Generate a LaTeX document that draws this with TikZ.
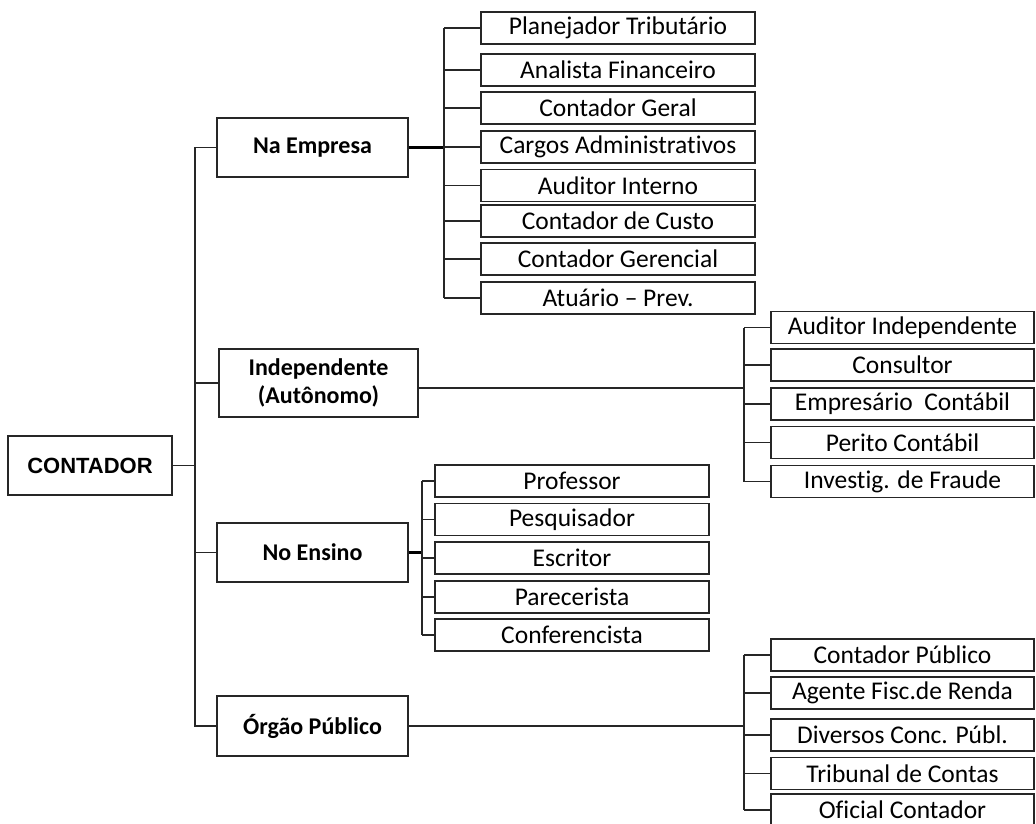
\documentclass[tikz,border=0pt]{standalone}
\usepackage{fontspec}
\setmainfont[Ligatures=NoCommon]{Carlito}
\newfontfamily\arialfont{Liberation Sans}
\begin{document}
\begin{tikzpicture}[x=1pt,y=-1pt,
  box/.style={draw=black!85, line width=1.2pt, inner sep=0pt, anchor=center},
  leaf/.style={box, minimum width=274pt, minimum height=32pt, font=\fontsize{25.5}{28}\selectfont},
  leafr/.style={box, minimum width=263pt, minimum height=32pt, font=\fontsize{25.5}{28}\selectfont},
  mid/.style={box, minimum width=191pt, minimum height=59pt, font=\bfseries\fontsize{24}{27}\selectfont, align=center},
  ln/.style={draw=black!85, line width=1.2pt},
  thick ln/.style={draw=black, line width=2.4pt}
]
\useasboundingbox (0,0) rectangle (1036,823);

% root
\node[box, minimum width=164pt, minimum height=59pt, font=\arialfont\bfseries\fontsize{22}{25}\selectfont] (root) at (90,465.5) {CONTADOR};

% second level
\node[mid] (emp) at (312.5,147.5) {Na Empresa};
\node[mid, minimum width=199pt, minimum height=68pt, font=\bfseries\fontsize{24}{28}\selectfont] (ind) at (318.5,383) {Independente\\(Autônomo)};
\node[mid] (ens) at (312.5,552.5) {No Ensino};
\node[mid, minimum height=60pt] (org) at (312.5,726) {Órgão Público};

% trunk
\coordinate (tr) at (195,465.5);
\draw[ln] (root.east) -- (tr);
\draw[ln] (emp.west) -- (emp.west -| tr) -- (org.west -| tr) -- (org.west);
\draw[ln] (ind.west) -- (ind.west -| tr);
\draw[ln] (ens.west) -- (ens.west -| tr);

% Na Empresa children
\node[leaf] (e1) at (618,28) {Planejador Tributário};
\node[leaf] (e2) at (618,70) {Analista Financeiro};
\node[leaf] (e3) at (618,108) {Contador Geral};
\node[leaf] (e4) at (618,147) {Cargos Administrativos};
\node[leaf] (e5) at (618,185.5) {Auditor Interno};
\node[leaf] (e6) at (618,221) {Contador de Custo};
\node[leaf] (e7) at (618,259) {Contador Gerencial};
\node[leaf] (e8) at (618,298) {Atuário – Prev.};
\coordinate (be) at (444,147.5);
\draw[thick ln] (emp.east) -- (be);
\draw[ln] (e1.west -| be) -- (e8.west -| be);
\foreach \n in {e1,e2,e3,e4,e5,e6,e7,e8} \draw[ln] (\n.west) -- (\n.west -| be);

% Independente children
\node[leafr] (i1) at (902.5,327.5) {Auditor Independente};
\node[leafr] (i2) at (902.5,365) {Consultor};
\node[leafr] (i3) at (902.5,404) {Empresário\ \ Contábil};
\node[leafr] (i4) at (902.5,442.5) {Perito Contábil};
\node[leafr] (i5) at (902.5,481.5) {Investig. de Fraude};
\coordinate (bi) at (744,378);
\draw[ln] ([yshift=-5pt]ind.east) -- ([yshift=-5pt]ind.east -| bi);
\draw[ln] (i1.west -| bi) -- (i5.west -| bi);
\foreach \n in {i1,i2,i3,i4,i5} \draw[ln] (\n.west) -- (\n.west -| bi);

% No Ensino children
\node[leaf] (n1) at (572,481) {Professor};
\node[leaf] (n2) at (572,519.5) {Pesquisador};
\node[leaf] (n3) at (572,558) {Escritor};
\node[leaf] (n4) at (572,597) {Parecerista};
\node[leaf] (n5) at (572,635) {Conferencista};
\coordinate (bn) at (422,552.5);
\draw[thick ln] (ens.east) -- (bn);
\draw[ln] (n1.west -| bn) -- (n5.west -| bn);
\foreach \n in {n1,n2,n3,n4,n5} \draw[ln] (\n.west) -- (\n.west -| bn);

% Orgao Publico children
\node[leafr] (o1) at (902.5,655) {Contador Público};
\node[leafr] (o2) at (902.5,693) {Agente Fisc.de Renda};
\node[leafr] (o3) at (902.5,735) {Diversos Conc. Públ.};
\node[leafr] (o4) at (902.5,773.5) {Tribunal de Contas};
\node[leafr] (o5) at (902.5,810) {Oficial Contador};
\coordinate (bo) at (744,726);
\draw[ln] (org.east) -- (bo);
\draw[ln] (o1.west -| bo) -- (o5.west -| bo);
\foreach \n in {o1,o2,o3,o4,o5} \draw[ln] (\n.west) -- (\n.west -| bo);
\end{tikzpicture}
\end{document}
